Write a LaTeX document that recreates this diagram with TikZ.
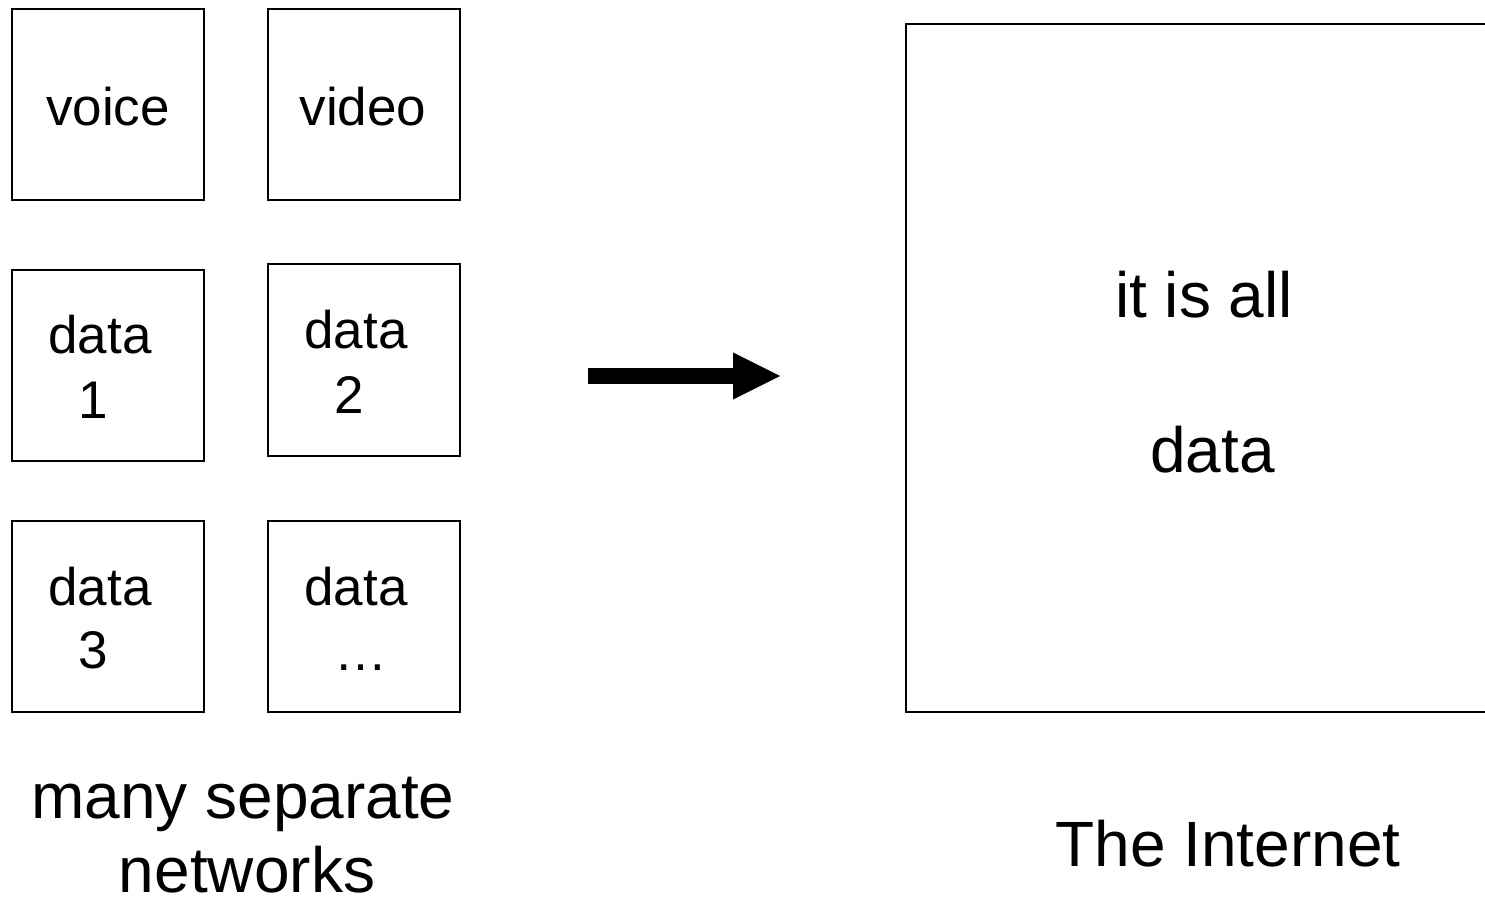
\documentclass[tikz,border=0pt]{standalone}
\usepackage{fontspec}
\setmainfont{Liberation Sans}
\usetikzlibrary{arrows.meta}
\begin{document}
\begin{tikzpicture}
                        [netbox/.style={draw, line width=1pt, minimum width=96pt, minimum height=95.5pt, inner sep=0pt},
                        bigbox/.style={draw, line width=1.3pt, minimum width=310pt, minimum height=344pt, inner sep=0pt},
                        boxtxt/.style={anchor=base, font=\fontsize{26.5}{30}\selectfont},
                        bigtxt/.style={anchor=base, font=\fontsize{32}{36}\selectfont},
                        x=0.5pt, y=-0.5pt]
                        \path [use as bounding box, clip] (0,0) rectangle (1485,899);
                        %separate networks
                        \node [netbox] (voice) at (108,104.5) {};
                        \node [netbox] (video) at (364,104.5) {};
                        \node [netbox] (dataA) at (108,365) {};
                        \node [netbox] (dataB) at (364,360) {};
                        \node [netbox] (dataC) at (108,616.5) {};
                        \node [netbox] (dataD) at (364,616.5) {};
                        \node [boxtxt] (voiceT) at (108,126) {voice};
                        \node [boxtxt] (videoT) at (363,126) {video};
                        \node [boxtxt] (dataAT) at (100,353) {data};
                        \node [boxtxt] (dataAN) at (93,418) {1};
                        \node [boxtxt] (dataBT) at (356,348) {data};
                        \node [boxtxt] (dataBN) at (349,413) {2};
                        \node [boxtxt] (dataCT) at (100,605) {data};
                        \node [boxtxt] (dataCN) at (93,668) {3};
                        \node [boxtxt] (dataDT) at (356,605) {data};
                        \node [boxtxt] (dataDN) at (361,670) {…};
                        \node [bigtxt] (many) at (243,818) {many separate};
                        \node [bigtxt] (nets) at (247,892) {networks};
                        %Pfeil
                        \coordinate (from) at (588,376);
                        \coordinate (to) at (780,376);
                        \draw [line width=8pt, -{Triangle[length=23.5pt, width=23.5pt, line width=0pt]}] (from) -- (to);
                        %the Internet
                        \node [bigbox] (inet) at (1216,368) {};
                        \node [bigtxt] (all) at (1204,317) {it is all};
                        \node [bigtxt] (data) at (1212.5,472) {data};
                        \node [bigtxt] (inetT) at (1228,866) {The Internet};
\end{tikzpicture}
\end{document}
